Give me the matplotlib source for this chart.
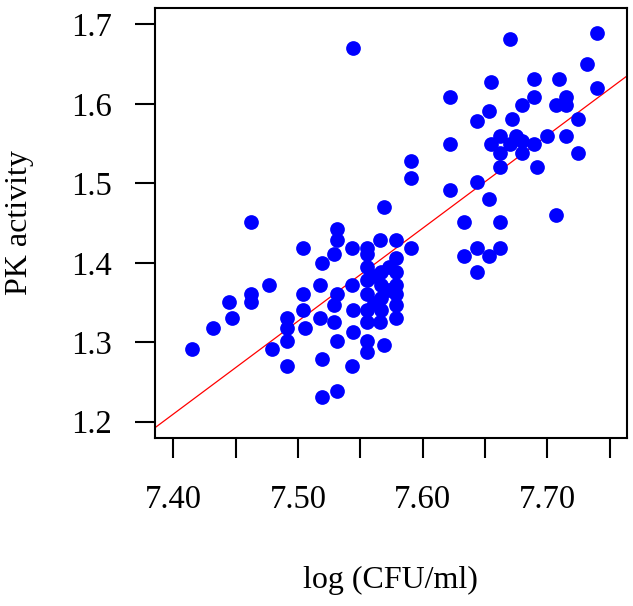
import matplotlib
matplotlib.use("Agg")
import matplotlib.pyplot as plt
import numpy as np

plt.rcParams['font.family'] = ['Liberation Serif', 'DejaVu Serif']

# log (CFU/ml) vs PK activity
log_cfu = [7.415, 7.432, 7.445, 7.447, 7.462, 7.462, 7.462, 7.477, 7.479, 7.491,
           7.491, 7.491, 7.491, 7.504, 7.504, 7.504, 7.506, 7.518, 7.518, 7.519,
           7.519, 7.531, 7.519, 7.531, 7.531, 7.529, 7.543, 7.555, 7.566, 7.579,
           7.591, 7.543, 7.529, 7.529, 7.531, 7.531, 7.543, 7.544, 7.544, 7.555,
           7.555, 7.569, 7.566, 7.579, 7.579, 7.555, 7.567, 7.579, 7.579, 7.579,
           7.555, 7.555, 7.555, 7.555, 7.567, 7.567, 7.567, 7.579, 7.555,
           7.561, 7.573, 7.561, 7.573,
           7.591, 7.591, 7.569, 7.544,
           7.670, 7.740, 7.732, 7.740, 7.655, 7.689, 7.709, 7.622, 7.653, 7.644,
           7.689, 7.680, 7.707, 7.715, 7.715, 7.672, 7.725, 7.622, 7.662, 7.675,
           7.655, 7.680, 7.689, 7.670, 7.662, 7.680, 7.700, 7.715, 7.725, 7.662,
           7.692, 7.644, 7.622, 7.653, 7.707, 7.633, 7.662, 7.644, 7.662, 7.633,
           7.653, 7.644]
pk_activity = [1.292, 1.318, 1.350, 1.331, 1.451, 1.361, 1.350, 1.372, 1.292, 1.270,
               1.331, 1.318, 1.301, 1.419, 1.361, 1.341, 1.318, 1.372, 1.331, 1.279,
               1.231, 1.239, 1.400, 1.442, 1.429, 1.411, 1.419, 1.419, 1.429, 1.429,
               1.419, 1.270, 1.347, 1.325, 1.301, 1.361, 1.372, 1.341, 1.313, 1.301,
               1.288, 1.297, 1.325, 1.331, 1.361, 1.395, 1.388, 1.406, 1.388, 1.372,
               1.378, 1.361, 1.341, 1.325, 1.372, 1.356, 1.341, 1.347, 1.411,
               1.383, 1.366, 1.349, 1.395,
               1.528, 1.507, 1.470, 1.670,
               1.681, 1.689, 1.650, 1.620, 1.627, 1.631, 1.631, 1.609, 1.591, 1.578,
               1.609, 1.599, 1.599, 1.609, 1.599, 1.581, 1.581, 1.549, 1.559, 1.559,
               1.549, 1.553, 1.549, 1.549, 1.538, 1.538, 1.559, 1.559, 1.538, 1.520,
               1.520, 1.502, 1.491, 1.480, 1.460, 1.451, 1.451, 1.419, 1.419, 1.408,
               1.408, 1.388]

# fitted line as drawn in the figure
fit_slope = 1.169
fit_intercept = -7.441

x_ticks = [7.40, 7.45, 7.50, 7.55, 7.60, 7.65, 7.70, 7.75]
x_ticklabels = ['7.40', '', '7.50', '', '7.60', '', '7.70', '']
y_ticks = [1.2, 1.3, 1.4, 1.5, 1.6, 1.7]

fig = plt.figure(figsize=(6.33, 6.06), dpi=100)
ax = fig.add_axes([0.2444, 0.2772, 0.7461, 0.7096])

ax.plot(log_cfu, pk_activity, 'o', color='#0000ff', markersize=10.6,
        markeredgewidth=0, zorder=3)

xlim = (7.3851, 7.7639)
xs = np.array(xlim)
ax.plot(xs, fit_intercept + fit_slope * xs, color='#ff0000', linewidth=0.9, zorder=2)

ax.set_xlim(xlim)
ax.set_ylim(1.1795, 1.7205)
ax.set_xticks(x_ticks)
ax.set_xticklabels(x_ticklabels)
ax.set_yticks(y_ticks)
ax.set_yticklabels([f'{v:.1f}' for v in y_ticks])

ax.tick_params(axis='both', direction='out', length=14.5, width=1.5,
               labelsize=23.5, color='black')
ax.tick_params(axis='x', pad=19)
ax.tick_params(axis='y', pad=16)
for sp in ax.spines.values():
    sp.set_linewidth(1.5)

ax.set_xlabel('log (CFU/ml)', fontsize=23)
ax.set_ylabel('PK activity', fontsize=23)
ax.xaxis.set_label_coords(0.5, -0.298)
ax.yaxis.set_label_coords(-0.256, 0.5)

fig.savefig('out.png', dpi=100, facecolor='white')
